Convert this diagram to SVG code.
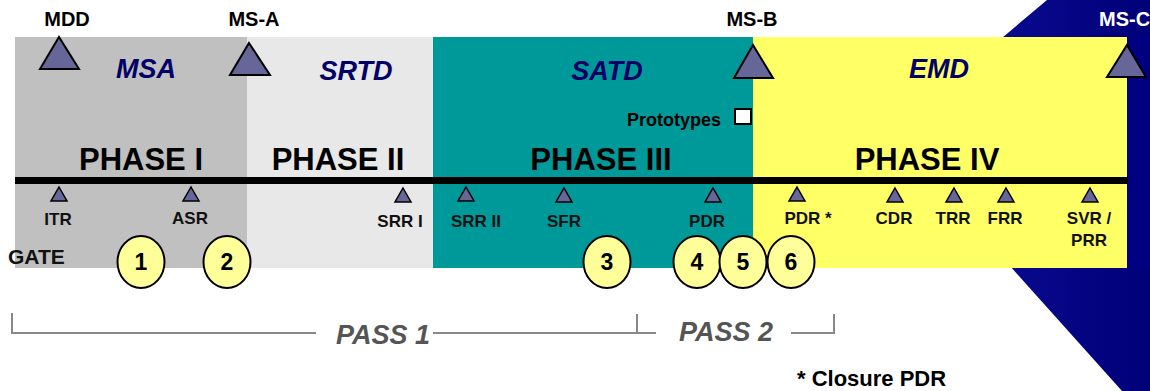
<svg xmlns="http://www.w3.org/2000/svg" width="1150" height="391" viewBox="0 0 1150 391">
<defs>
<linearGradient id="navy" x1="0" y1="0" x2="1" y2="0">
<stop offset="0" stop-color="#1010a0"/>
<stop offset="1" stop-color="#000078"/>
</linearGradient>
<style>
text{font-family:"Liberation Sans",Arial,sans-serif;font-weight:bold}
.ms{font-size:20px;fill:#000;text-anchor:middle}
.big{fill:#666699;stroke:#000;stroke-width:2;stroke-linejoin:miter}
.sm{fill:#666699;stroke:#000;stroke-width:1.5}
.ph{font-size:27px;font-style:italic;fill:#000066;text-anchor:middle}
.phase{font-size:31px;fill:#000;text-anchor:middle}
.rv{font-size:17px;fill:#111;text-anchor:middle}
.gate{fill:#FFFF99;stroke:#000;stroke-width:2}
.gn{font-size:23px;fill:#000;text-anchor:middle}
.pass{font-size:27px;font-style:italic;fill:#555;text-anchor:middle}
.br{fill:none;stroke:#888;stroke-width:2}
</style>
</defs>
<rect width="1150" height="391" fill="#fff"/>
<polygon points="1047,0 1150,0 1150,391 1122,391 890,132" fill="url(#navy)"/>
<g id="phase1"><rect x="15" y="37" width="232" height="231" fill="#C0C0C0"/></g>
<g id="phase2"><rect x="247" y="37" width="186" height="231" fill="#E8E8E8"/></g>
<g id="phase3"><rect x="433" y="37" width="320" height="231" fill="#009999"/></g>
<g id="phase4"><rect x="753" y="37" width="374" height="231" fill="#FFFF66"/></g>
<rect x="1127" y="37" width="23" height="231" fill="#000080"/>

<text class="ph" x="146" y="78">MSA</text>
<text class="ph" x="356" y="80">SRTD</text>
<text class="ph" x="607" y="80">SATD</text>
<text class="ph" x="939" y="78">EMD</text>

<g id="MDD"><text class="ms" x="67" y="26">MDD</text><polygon class="big" points="59,37 79,69 40,69"/></g>
<g id="MS-A"><text class="ms" x="254" y="26">MS-A</text><polygon class="big" points="249,43 270,75 230,75"/></g>
<g id="MS-B"><text class="ms" x="752" y="26">MS-B</text><polygon class="big" points="753,45 773,78 734,78"/></g>
<g id="MS-C"><text class="ms" x="1099" y="26" style="fill:#fff;text-anchor:start">MS-C</text><polygon class="big" points="1127,45 1146,77 1107,77"/></g>

<g id="prototypes"><text x="721" y="126" font-size="18" text-anchor="end" fill="#000">Prototypes</text><rect x="735" y="109" width="16" height="15" fill="#fff" stroke="#000" stroke-width="2"/></g>

<text class="phase" x="141" y="170">PHASE I</text>
<text class="phase" x="338" y="170">PHASE II</text>
<text class="phase" x="601" y="170">PHASE III</text>
<text class="phase" x="927" y="170">PHASE IV</text>

<g id="connectors"><line x1="15" y1="180.5" x2="1128" y2="180.5" stroke="#000" stroke-width="7"/></g>

<g id="ITR"><polygon class="sm" points="59,187 67,201 51,201"/><text class="rv" x="58" y="225">ITR</text></g>
<g id="ASR"><polygon class="sm" points="191,187 199,201 183,201"/><text class="rv" x="190" y="224">ASR</text></g>
<g id="SRR1"><polygon class="sm" points="403,188 411,202 395,202"/><text class="rv" x="400" y="227">SRR I</text></g>
<g id="SRR2"><polygon class="sm" points="466,187 474,201 458,201"/><text class="rv" x="476" y="227">SRR II</text></g>
<g id="SFR"><polygon class="sm" points="564,188 572,202 556,202"/><text class="rv" x="564" y="227">SFR</text></g>
<g id="PDR"><polygon class="sm" points="713,188 721,202 705,202"/><text class="rv" x="707" y="227">PDR</text></g>
<g id="PDR2"><polygon class="sm" points="797,187 805,201 789,201"/><text class="rv" x="808" y="224">PDR *</text></g>
<g id="CDR"><polygon class="sm" points="895,188 903,202 887,202"/><text class="rv" x="894" y="224">CDR</text></g>
<g id="TRR"><polygon class="sm" points="954,188 962,202 946,202"/><text class="rv" x="953" y="224">TRR</text></g>
<g id="FRR"><polygon class="sm" points="1006,188 1014,202 998,202"/><text class="rv" x="1005" y="224">FRR</text></g>
<g id="SVR"><polygon class="sm" points="1090,188 1098,202 1082,202"/><text class="rv" x="1089" y="224">SVR /</text><text class="rv" x="1089" y="246">PRR</text></g>

<text x="8" y="264" font-size="21" fill="#111">GATE</text>
<g id="gate1"><ellipse class="gate" cx="141" cy="262" rx="23.5" ry="26"/><text class="gn" x="141" y="270">1</text></g>
<g id="gate2"><ellipse class="gate" cx="227" cy="262" rx="23.5" ry="26"/><text class="gn" x="227" y="270">2</text></g>
<g id="gate3"><ellipse class="gate" cx="607" cy="262" rx="23.5" ry="26"/><text class="gn" x="607" y="270">3</text></g>
<g id="gate4"><ellipse class="gate" cx="697" cy="262" rx="23.5" ry="26"/><text class="gn" x="697" y="270">4</text></g>
<g id="gate5"><ellipse class="gate" cx="743" cy="262" rx="23.5" ry="26"/><text class="gn" x="743" y="270">5</text></g>
<g id="gate6"><ellipse class="gate" cx="791" cy="262" rx="23.5" ry="26"/><text class="gn" x="791" y="270">6</text></g>

<g id="pass">
<polyline class="br" points="12,313 12,333 316,333"/>
<polyline class="br" points="433,333 637,333 637,314"/>
<line class="br" x1="637" y1="333" x2="656" y2="333"/>
<polyline class="br" points="791,333 834,333 834,314"/>
<text class="pass" x="383" y="344">PASS 1</text>
<text class="pass" x="726" y="341">PASS 2</text>
</g>
<text x="797" y="386" font-size="22" fill="#000">* Closure PDR</text>
</svg>
